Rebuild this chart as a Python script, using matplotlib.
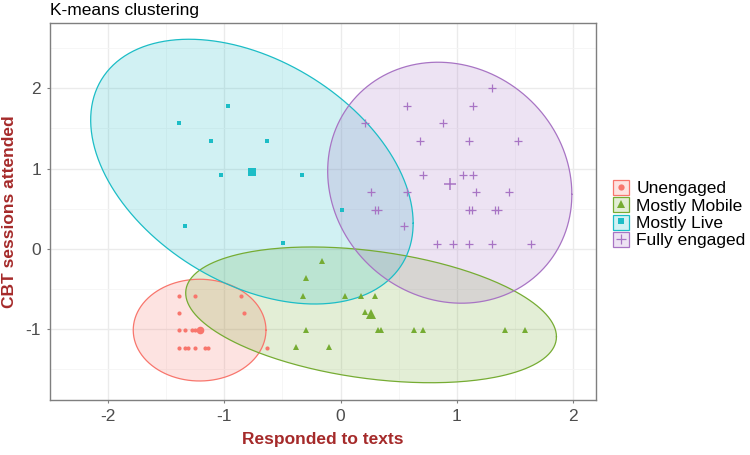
import numpy as np
import matplotlib
matplotlib.use("Agg")
import matplotlib.pyplot as plt
from matplotlib.patches import Patch
from matplotlib.lines import Line2D
from matplotlib.legend_handler import HandlerTuple

plt.rcParams['font.family'] = ['Liberation Sans', 'DejaVu Sans']
plt.rcParams['axes.unicode_minus'] = False

# cluster members (standardised scores)
unengaged_x = [-1.394, -1.253, -0.861, -1.394, -0.830, -1.394, -1.338, -1.282, -1.253,
               -1.394, -1.338, -1.311, -1.253, -1.169, -1.143, -0.636]
unengaged_y = [-0.58, -0.58, -0.58, -0.80, -0.80, -1.01, -1.01, -1.01, -1.01,
               -1.23, -1.23, -1.23, -1.23, -1.23, -1.23, -1.23]

mobile_x = [-0.158, -0.300, -0.325, 0.039, 0.178, 0.292, 0.206, -0.300, 0.320, 0.348,
            0.628, 0.712, 1.414, 1.583, -0.383, -0.103]
mobile_y = [-0.15, -0.36, -0.58, -0.58, -0.58, -0.58, -0.79, -1.01, -1.01, -1.01,
            -1.01, -1.01, -1.01, -1.01, -1.22, -1.22]

live_x = [-0.972, -1.394, -1.111, -0.636, -1.028, -0.328, 0.010, -1.336, -0.494]
live_y = [1.78, 1.57, 1.35, 1.35, 0.92, 0.92, 0.49, 0.28, 0.07]

full_x = [1.306, 0.573, 1.137, 0.208, 0.883, 0.683, 1.106, 1.528, 0.712, 1.050, 1.137,
          0.264, 0.573, 1.164, 1.445, 0.292, 0.320, 1.106, 1.133, 1.331, 1.358, 0.545,
          0.825, 0.964, 1.106, 1.303, 1.642]
full_y = [2.00, 1.78, 1.78, 1.57, 1.57, 1.35, 1.35, 1.35, 0.92, 0.92, 0.92,
          0.71, 0.71, 0.71, 0.71, 0.49, 0.49, 0.49, 0.49, 0.49, 0.49, 0.28,
          0.06, 0.06, 0.06, 0.06, 0.06]

# cluster centres
centre_x = [-1.213, 0.262, -0.763, 0.937]
centre_y = [-1.01, -0.81, 0.963, 0.806]

# 95% ellipses: centre and shape matrix (sxx, sxy, syy)
ell_cx = [-1.213, 0.262, -0.763, 0.939]
ell_cy = [-1.01, -0.82, 0.963, 0.825]
ell_sxx = [0.326, 2.543, 1.924, 1.103]
ell_sxy = [0.0, -0.434, -0.892, -0.152]
ell_syy = [0.401, 0.714, 2.716, 2.25]

labels = ['Unengaged', 'Mostly Mobile', 'Mostly Live', 'Fully engaged']
colors = ['#F8766D', '#76AC33', '#1CBDC6', '#A874C4']
markers = ['o', '^', 's', '+']
msize = [3.0, 3.8, 3.0, 5.5]
csize = [5.5, 7.0, 5.5, 9.0]

groups_x = [unengaged_x, mobile_x, live_x, full_x]
groups_y = [unengaged_y, mobile_y, live_y, full_y]

fig = plt.figure(figsize=(7.5, 4.55), dpi=100)
ax = fig.add_axes([50/750, 1-400/455, 546/750, 377.3/455])

t = np.linspace(0, 2*np.pi, 300)
for i in range(4):
    m = np.array([[ell_sxx[i], ell_sxy[i]], [ell_sxy[i], ell_syy[i]]])
    L = np.linalg.cholesky(m)
    pts = L @ np.vstack([np.cos(t), np.sin(t)])
    ex = ell_cx[i] + pts[0]
    ey = ell_cy[i] + pts[1]
    ax.fill(ex, ey, color=colors[i], alpha=0.2, lw=0, zorder=2)
    ax.plot(ex, ey, color=colors[i], lw=0.9, zorder=3)

for i in range(4):
    mew = 0.9 if markers[i] == '+' else 0
    ax.plot(groups_x[i], groups_y[i], ls='none', marker=markers[i], ms=msize[i],
            color=colors[i], mew=mew, zorder=4)
    ax.plot(centre_x[i], centre_y[i], ls='none', marker=markers[i], ms=csize[i],
            color=colors[i], mew=1.1 if markers[i] == '+' else 0, zorder=4)

ax.set_xlim(-2.35, 2.197)
ax.set_ylim(-1.88, 2.817)
ax.set_xticks([-2, -1, 0, 1, 2])
ax.set_yticks([-1, 0, 1, 2])
ax.set_xticks(np.arange(-2.5, 2.5, 0.5), minor=True)
ax.set_yticks(np.arange(-1.5, 3.0, 0.5), minor=True)
ax.grid(which='major', color='#EBEBEB', lw=1.0, zorder=0)
ax.grid(which='minor', color='#F5F5F5', lw=0.6, zorder=0)
ax.set_axisbelow(True)
ax.tick_params(which='major', length=2.5, color='#7F7F7F', labelsize=12.5,
               labelcolor='#4D4D4D', pad=4)
ax.tick_params(which='minor', length=0)
for s in ax.spines.values():
    s.set_color('#7F7F7F')
    s.set_linewidth(1.0)

ax.set_xlabel('Responded to texts', fontsize=12.5, fontweight='bold', color='#A52A2A',
              labelpad=6)
ax.set_ylabel('CBT sessions attended', fontsize=12.5, fontweight='bold', color='#A52A2A',
              labelpad=6)
fig.text(50/750, 1-11/455, 'K-means clustering', fontsize=12.5, ha='left', va='center')

handles = []
for i in range(4):
    p = Patch(facecolor=colors[i], alpha=0.2, edgecolor='none')
    e = Patch(facecolor='none', edgecolor=colors[i], lw=0.9)
    mk = Line2D([], [], ls='none', marker=markers[i], ms=msize[i] + 1.5,
                color=colors[i], mew=0.9 if markers[i] == '+' else 0)
    handles.append((p, e, mk))

fig.legend(handles, labels, handler_map={tuple: HandlerTuple(ndivide=1, pad=0)},
           loc='upper left', bbox_to_anchor=(613/750, 1-180/455), frameon=False,
           fontsize=12.5, handlelength=0.95, handleheight=0.95, labelspacing=0.05,
           handletextpad=0.4, borderpad=0, borderaxespad=0)

fig.savefig('out.png', dpi=100)
